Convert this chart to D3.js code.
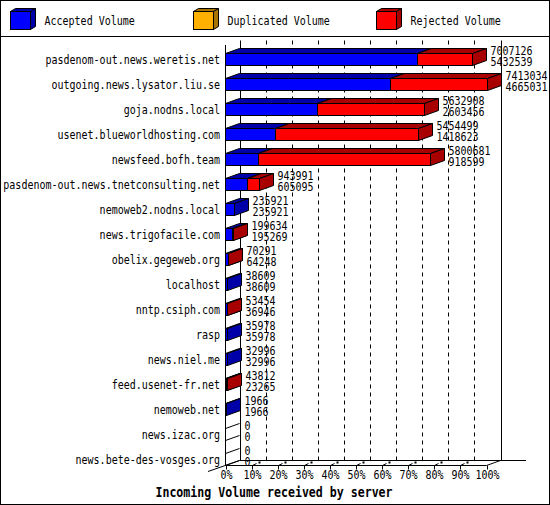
<!DOCTYPE html>
<html><head><meta charset="utf-8">
<script src="https://cdn.jsdelivr.net/npm/d3@7"></script>
<style>
html,body{margin:0;padding:0;background:#fff;}
svg{display:block;}
text{font-family:"DejaVu Sans Mono","Liberation Mono",monospace;}
</style></head>
<body>
<script>
const servers = ["pasdenom-out.news.weretis.net","outgoing.news.lysator.liu.se","goja.nodns.local","usenet.blueworldhosting.com","newsfeed.bofh.team","pasdenom-out.news.tnetconsulting.net","nemoweb2.nodns.local","news.trigofacile.com","obelix.gegeweb.org","localhost","nntp.csiph.com","rasp","news.niel.me","feed.usenet-fr.net","nemoweb.net","news.izac.org","news.bete-des-vosges.org"];
const totalVolume = [7007126,7413034,5632908,5454499,5800681,943991,235921,199634,70291,38609,53454,35978,32996,43812,1966,0,0];
const acceptedVolume = [5432539,4665031,2603456,1418623,918599,605095,235921,195269,64248,38609,36946,35978,32996,23265,1966,0,0];
const legendLabels = ["Accepted Volume","Duplicated Volume","Rejected Volume"];
const tickValues = [0,10,20,30,40,50,60,70,80,90,100];
const xTitle = "Incoming Volume received by server";

const W=550,H=505;
const colors = {acc:["#0000ff","#0000a8"], dup:["#ffb000","#a87400"], rej:["#ff0000","#a80000"]};
const DX=14, DY=5;

const svg=d3.select("body").append("svg").attr("width",W).attr("height",H);
svg.append("rect").attr("x",0.5).attr("y",0.5).attr("width",W-1).attr("height",H-1).attr("fill","#fff").attr("stroke","#000");
svg.append("line").attr("x1",0).attr("x2",W).attr("y1",36.5).attr("y2",36.5).attr("stroke","#000");

function txt(x,y,s,anchor,size,weight){
  return svg.append("text").attr("transform",`translate(${x},${y}) scale(1,1.14)`)
    .attr("dy","0.36em").attr("text-anchor",anchor||"start").attr("font-size",size||"10px")
    .attr("font-weight",weight||"normal").text(s);
}

// legend
const legX=[10.5,193.5,376.5];
const legC=[colors.acc,colors.dup,colors.rej];
legendLabels.forEach((l,i)=>{
  const g=svg.append("g");
  const x0=legX[i],y0=11.5,w=20,h=18,dx=5,dy=3;
  g.append("polygon").attr("points",[[x0,y0],[x0+dx,y0-dy],[x0+w+dx,y0-dy],[x0+w,y0]].join(" ")).attr("fill",legC[i][1]).attr("stroke","#000");
  g.append("polygon").attr("points",[[x0+w,y0],[x0+w+dx,y0-dy],[x0+w+dx,y0+h-dy],[x0+w,y0+h]].join(" ")).attr("fill",legC[i][1]).attr("stroke","#000");
  g.append("rect").attr("x",x0).attr("y",y0).attr("width",w).attr("height",h).attr("fill",legC[i][0]).attr("stroke","#000");
  txt(x0+34,21,l);
});

const maxV=d3.max(totalVolume);
const x=d3.scaleLinear().domain([0,100]).range([225.5,486.5]);
const y=d3.scaleBand().domain(servers).range([46.5,471.5]).paddingInner(0.52).paddingOuter(0.26);
const yTop=40.5, yFloor=465.5;

// back wall gridlines
tickValues.forEach(t=>{
  const bx=Math.round(x(t)+DX)+0.5;
  svg.append("line").attr("x1",bx).attr("x2",bx).attr("y1",yTop).attr("y2",yFloor-DY)
    .attr("stroke","#000").attr("stroke-dasharray",(t===0||t===100)?null:"4,4");
});
// floor
svg.append("line").attr("x1",x(0)+DX).attr("x2",526).attr("y1",yFloor-DY).attr("y2",yFloor-DY).attr("stroke","#000");
svg.append("line").attr("x1",208).attr("y1",yFloor+6).attr("x2",x(0)+DX).attr("y2",yFloor-DY).attr("stroke","#000");
svg.append("line").attr("x1",x(0)).attr("x2",x(100)).attr("y1",yFloor).attr("y2",yFloor).attr("stroke","#000");
svg.append("line").attr("x1",x(100)).attr("y1",yFloor).attr("x2",x(100)+DX).attr("y2",yFloor-DY).attr("stroke","#000");
// front axis
svg.append("line").attr("x1",x(0)).attr("x2",x(0)).attr("y1",45).attr("y2",yFloor).attr("stroke","#000");
// ticks
tickValues.forEach(t=>{
  const fx=Math.round(x(t))+0.5;
  svg.append("line").attr("x1",fx).attr("x2",fx).attr("y1",yFloor).attr("y2",yFloor+4).attr("stroke","#000");
  if(t>0&&t<100){
    svg.append("line").attr("x1",fx).attr("y1",yFloor).attr("x2",fx+4).attr("y2",yFloor-2).attr("stroke","#000");
    svg.append("rect").attr("x",fx+6).attr("y",yFloor-4).attr("width",2).attr("height",2).attr("fill","#000");
  }
  txt(fx,475,t+"%","middle");
});

function box(x0,x1,y0,y1,c){
  const g=svg.append("g");
  g.append("polygon").attr("points",[[x0,y0],[x0+DX,y0-DY],[x1+DX,y0-DY],[x1,y0]].join(" ")).attr("fill",c[1]).attr("stroke","#000");
  g.append("polygon").attr("points",[[x1,y0],[x1+DX,y0-DY],[x1+DX,y1-DY],[x1,y1]].join(" ")).attr("fill",c[1]).attr("stroke","#000");
  if(x1>x0) g.append("rect").attr("x",x0).attr("y",y0).attr("width",x1-x0).attr("height",y1-y0).attr("fill",c[0]).attr("stroke","#000");
}

servers.forEach((s,i)=>{
  const y0=Math.round(y(s))+0.5, y1=y0+y.bandwidth();
  const tot=totalVolume[i], acc=acceptedVolume[i];
  const xa=Math.round(x(acc/maxV*100))+0.5, xt=Math.round(x(tot/maxV*100))+0.5;
  if(tot===0){
    svg.append("line").attr("x1",x(0)).attr("y1",y0).attr("x2",x(0)+DX).attr("y2",y0-DY).attr("stroke","#000");
    svg.append("line").attr("x1",x(0)).attr("y1",y1).attr("x2",x(0)+DX).attr("y2",y1-DY).attr("stroke","#000");
  } else {
    box(x(0),xa,y0,y1,colors.acc);
    if(tot>acc) box(xa,xt,y0,y1,colors.rej);
  }
  const c=y0+6;
  txt(220,c,s,"end");
  txt(xt+DX+4,c-9,tot);
  txt(xt+DX+4,c+2,acc);
});

txt(274,492.5,xTitle,"middle","11.6px","bold");
</script>
</body></html>
